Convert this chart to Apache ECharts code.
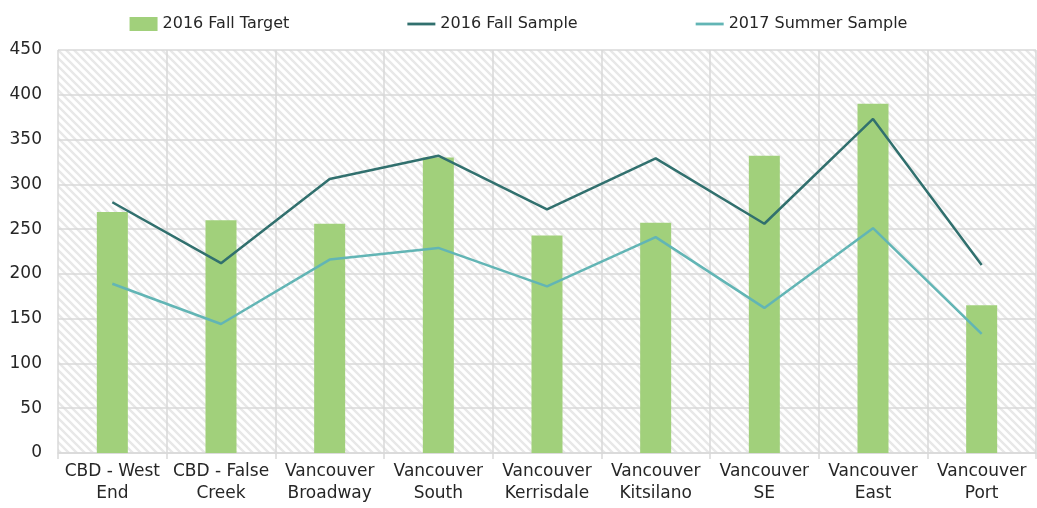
<!DOCTYPE html>
<html><head><meta charset="utf-8">
<script src="https://cdn.jsdelivr.net/npm/echarts@6/dist/echarts.min.js"></script>
<style>html,body{margin:0;padding:0;background:#fff}#c{width:1037px;height:508px}</style>
</head><body><div id="c"></div>
<script>
const categories = ['CBD - West\nEnd','CBD - False\nCreek','Vancouver\nBroadway','Vancouver\nSouth','Vancouver\nKerrisdale','Vancouver\nKitsilano','Vancouver\nSE','Vancouver\nEast','Vancouver\nPort'];
const fallTarget = [269, 260, 256, 330, 243, 257, 332, 390, 165];
const fallSample = [280, 212, 306, 332, 272, 329, 256, 373, 210];
const summerSample = [189, 144, 216, 229, 186, 241, 162, 251, 133];
const yTicks = [0, 50, 100, 150, 200, 250, 300, 350, 400, 450];

const T = 8;
const pc = document.createElement('canvas');
pc.width = T; pc.height = T;
const g = pc.getContext('2d');
g.fillStyle = '#ffffff'; g.fillRect(0,0,T,T);
g.strokeStyle = '#e8e8e8'; g.lineWidth = 2.4;
g.beginPath();
for (let k = -2; k <= 2; k++) { g.moveTo(k*T - T, -T); g.lineTo(k*T + 2*T, 2*T); }
g.stroke();

const font = '"DejaVu Sans", sans-serif';
const linePath = 'path://M0,0 L30,0 L30,3 L0,3 Z';
const chart = echarts.init(document.getElementById('c'));
chart.setOption({
  animation: false,
  textStyle: {fontFamily: font},
  legend: {
    top: 11, left: 'center', itemGap: 118, itemWidth: 28, itemHeight: 14,
    textStyle: {fontSize: 16, color: '#262626', fontFamily: font},
    data: [
      {name: '2016 Fall Target', icon: 'rect'},
      {name: '2016 Fall Sample', icon: linePath, itemStyle: {color: '#31706E'}},
      {name: '2017 Summer Sample', icon: linePath, itemStyle: {color: '#62B5B5'}}
    ]
  },
  grid: {left: 58, right: 1, top: 50, bottom: 55, show: true, backgroundColor: {image: pc, repeat: 'repeat'}, borderWidth: 0},
  xAxis: {
    type: 'category', data: categories, boundaryGap: true,
    axisLine: {show: true, lineStyle: {color: '#d9d9d9', width: 1.5}},
    axisTick: {show: true, length: 6, lineStyle: {color: '#d9d9d9', width: 1.5}},
    splitLine: {show: true, lineStyle: {color: '#d9d9d9', width: 1.5}},
    axisLabel: {color: '#262626', fontSize: 17, lineHeight: 22, margin: 8, interval: 0, fontFamily: font}
  },
  yAxis: {
    type: 'value', min: 0, max: 450, interval: 50,
    axisLine: {show: false}, axisTick: {show: false},
    splitLine: {show: true, lineStyle: {color: '#d9d9d9', width: 1.5}},
    axisLabel: {color: '#262626', fontSize: 17, margin: 16, fontFamily: font,
      formatter: v => yTicks.includes(v) ? String(v) : ''}
  },
  series: [
    {name: '2016 Fall Target', type: 'bar', data: fallTarget, barWidth: 31, itemStyle: {color: '#A1D07B'}},
    {name: '2016 Fall Sample', type: 'line', data: fallSample, symbol: 'none', lineStyle: {color: '#31706E', width: 2.5}, itemStyle: {color: '#31706E'}},
    {name: '2017 Summer Sample', type: 'line', data: summerSample, symbol: 'none', lineStyle: {color: '#62B5B5', width: 2.5}, itemStyle: {color: '#62B5B5'}}
  ]
});
</script></body></html>
